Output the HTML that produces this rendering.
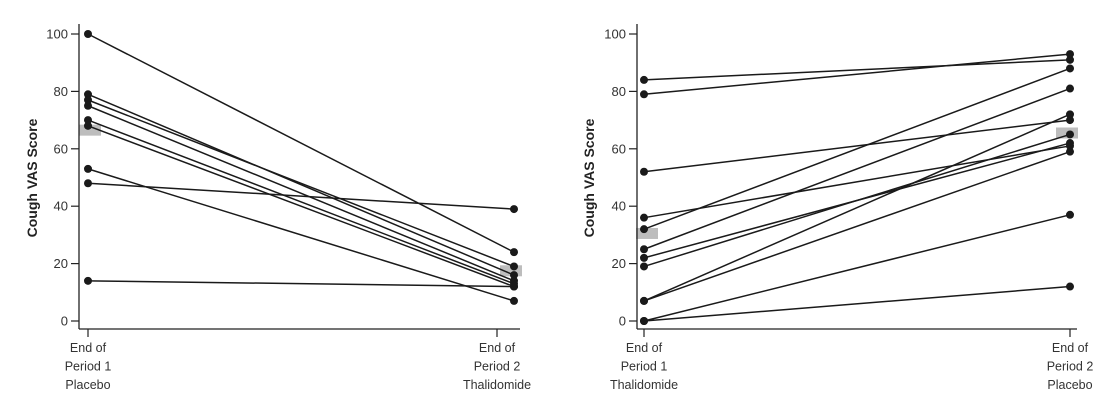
<!DOCTYPE html>
<html><head><meta charset="utf-8"><style>
body{margin:0;background:#fff;}
svg{display:block;font-family:"Liberation Sans",sans-serif;}
.tick{font-size:13px;fill:#333;}
.xl{font-size:12.5px;fill:#333;}
.yt{font-size:14px;font-weight:bold;fill:#222;}
</style></head><body>
<svg id="c" width="1112" height="402" viewBox="0 0 1112 402"></svg>
<script>
const yTicks=[0,20,40,60,80,100];
const leftStart=[100,79,77,75,70,68,53,48,14];
const leftEnd=[24,16,19,14,13,12,7,39,12];
const rightStart=[84,79,52,36,32,25,22,19,7,7,0,0];
const rightEnd=[91,93,70,61,88,81,62,65,72,59,37,12];
const leftMeans=[66.5,17.5];
const rightMeans=[30.5,65.5];
const leftLabels=[["End of","Period 1","Placebo"],["End of","Period 2","Thalidomide"]];
const rightLabels=[["End of","Period 1","Thalidomide"],["End of","Period 2","Placebo"]];

const NS="http://www.w3.org/2000/svg";
const svg=document.getElementById('c');
function mk(t,a,p){const e=document.createElementNS(NS,t);for(const k in a)e.setAttribute(k,a[k]);(p||svg).appendChild(e);return e;}
const y=v=>321-v*2.87;

function panel(name,ax,x1,x2,tx2,axEnd,ylabX,starts,ends,means,labels,meanX){
  const g=mk('g',{});
  
  
  // mean boxes
  means.forEach((m,i)=>{
    const r=mk('rect',{x:meanX[i],y:y(m)-5.5,width:22,height:11,fill:'#bdbdbd'},g);
    
    
  });
  // axes
  const ya=mk('line',{x1:ax,y1:24,x2:ax,y2:329,stroke:'#222','stroke-width':1.3},g);
  
  
  const xa=mk('line',{x1:ax,y1:329,x2:axEnd,y2:329,stroke:'#222','stroke-width':1.3},g);
  
  
  yTicks.forEach(v=>{
    mk('line',{x1:ax-8,y1:y(v),x2:ax,y2:y(v),stroke:'#222','stroke-width':1.2},g);
    const t=mk('text',{x:ax-11,y:y(v)+4.5,'text-anchor':'end',class:'tick'},g);
    t.textContent=v;
    
    
  });
  [x1,tx2].forEach((tx,i)=>{
    mk('line',{x1:tx,y1:329,x2:tx,y2:337,stroke:'#222','stroke-width':1.2},g);
    labels[i].forEach((s,j)=>{
      const t=mk('text',{x:tx,y:352+j*18.5,'text-anchor':'middle',class:'xl'},g);
      t.textContent=s;
      
      
    });
  });
  const yl=mk('text',{x:0,y:0,transform:`translate(${ylabX},178) rotate(-90)`,'text-anchor':'middle',class:'yt'},g);
  yl.textContent='Cough VAS Score';
  
  
  starts.forEach((s,i)=>{
    const l=mk('line',{x1:x1,y1:y(s),x2:x2,y2:y(ends[i]),stroke:'#1a1a1a','stroke-width':1.5},g);
    
    
  });
  starts.forEach((s,i)=>{
    [[x1,s],[x2,ends[i]]].forEach(p=>{
      const c=mk('circle',{cx:p[0],cy:y(p[1]),r:4,fill:'#1a1a1a'},g);
      
      
    });
  });
}
panel('left-panel',79,88,514,497,520,37,leftStart,leftEnd,leftMeans,leftLabels,[79,500]);
panel('right-panel',637,644,1070,1070,1077,594,rightStart,rightEnd,rightMeans,rightLabels,[636,1056]);
</script>
</body></html>
